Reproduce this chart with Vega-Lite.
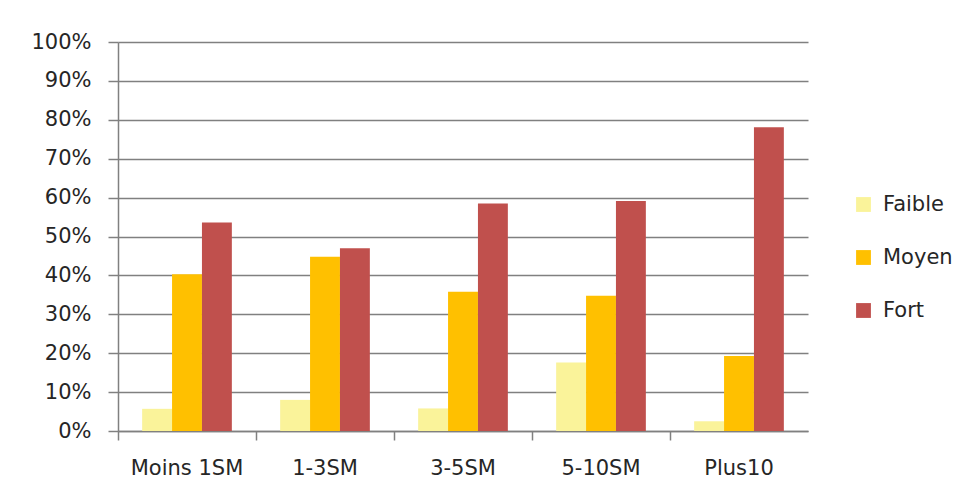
{
  "$schema": "https://vega.github.io/schema/vega-lite/v6.json",
  "autosize": "none",
  "width": 690,
  "height": 389,
  "padding": {"left": 118, "top": 42, "right": 171, "bottom": 70},
  "background": "white",
  "data": {
    "values": [
      {"cat": "Moins 1SM", "niveau": "Faible", "v": 0.057},
      {"cat": "Moins 1SM", "niveau": "Moyen", "v": 0.403},
      {"cat": "Moins 1SM", "niveau": "Fort", "v": 0.536},
      {"cat": "1-3SM", "niveau": "Faible", "v": 0.08},
      {"cat": "1-3SM", "niveau": "Moyen", "v": 0.448},
      {"cat": "1-3SM", "niveau": "Fort", "v": 0.47},
      {"cat": "3-5SM", "niveau": "Faible", "v": 0.058},
      {"cat": "3-5SM", "niveau": "Moyen", "v": 0.358},
      {"cat": "3-5SM", "niveau": "Fort", "v": 0.585},
      {"cat": "5-10SM", "niveau": "Faible", "v": 0.176},
      {"cat": "5-10SM", "niveau": "Moyen", "v": 0.348},
      {"cat": "5-10SM", "niveau": "Fort", "v": 0.591},
      {"cat": "Plus10", "niveau": "Faible", "v": 0.025},
      {"cat": "Plus10", "niveau": "Moyen", "v": 0.193},
      {"cat": "Plus10", "niveau": "Fort", "v": 0.781}
    ]
  },
  "mark": {"type": "bar"},
  "encoding": {
    "x": {
      "field": "cat",
      "type": "nominal",
      "sort": ["Moins 1SM", "1-3SM", "3-5SM", "5-10SM", "Plus10"],
      "scale": {"paddingInner": 0.35, "paddingOuter": 0.175},
      "axis": {
        "title": null,
        "labelAngle": 0,
        "labelFont": "DejaVu Sans",
        "labelFontSize": 21,
        "labelColor": "#262626",
        "labelPadding": 17,
        "tickSize": 9,
        "tickColor": "#808080",
        "tickWidth": 1.5,
        "domainColor": "#808080",
        "domainWidth": 1.5,
        "bandPosition": -0.2692
      }
    },
    "xOffset": {
      "field": "niveau",
      "type": "nominal",
      "sort": ["Faible", "Moyen", "Fort"],
      "scale": {"paddingInner": 0, "paddingOuter": 0}
    },
    "y": {
      "field": "v",
      "type": "quantitative",
      "scale": {"domain": [0, 1], "nice": false},
      "axis": {
        "title": null,
        "format": ".0%",
        "values": [0, 0.1, 0.2, 0.3, 0.4, 0.5, 0.6, 0.7, 0.8, 0.9, 1],
        "labelFont": "DejaVu Sans",
        "labelFontSize": 21,
        "labelColor": "#262626",
        "labelPadding": 17,
        "tickSize": 10,
        "tickColor": "#808080",
        "tickWidth": 1.5,
        "domainColor": "#808080",
        "domainWidth": 1.5,
        "grid": true,
        "gridColor": "#808080",
        "gridWidth": 1.5
      }
    },
    "color": {
      "field": "niveau",
      "type": "nominal",
      "sort": ["Faible", "Moyen", "Fort"],
      "scale": {"domain": ["Faible", "Moyen", "Fort"], "range": ["#FAF39A", "#FFC000", "#C0504D"]},
      "legend": {
        "title": null,
        "orient": "none",
        "legendX": 735,
        "legendY": 152,
        "symbolType": "square",
        "symbolSize": 220,
        "symbolStrokeWidth": 0,
        "labelFont": "DejaVu Sans",
        "labelFontSize": 21,
        "labelColor": "#262626",
        "labelOffset": 9,
        "rowPadding": 31
      }
    }
  },
  "config": {"view": {"stroke": null}}
}
